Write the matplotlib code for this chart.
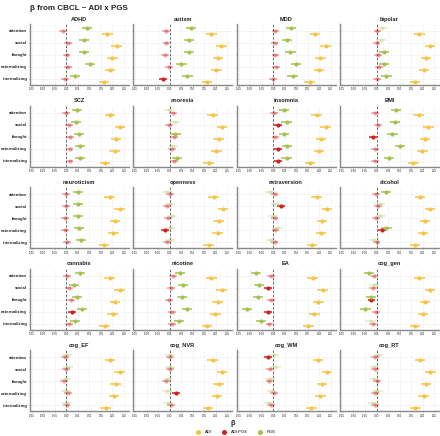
import numpy as np
import matplotlib
matplotlib.use("Agg")
import matplotlib.pyplot as plt
from matplotlib.lines import Line2D

# ---- data ----
panels = ["ADHD", "autism", "MDD", "bipolar",
          "SCZ", "anorexia", "insomnia", "BMI",
          "neuroticism", "openness", "extraversion", "alcohol",
          "cannabis", "nicotine", "EA", "cog_gen",
          "cog_EF", "cog_NVR", "cog_WM", "cog_RT"]
outcomes = ["attention", "social", "thought", "externalizing", "internalizing"]
xticks = [-0.15, -0.10, -0.05, 0.00, 0.05, 0.10, 0.15, 0.20, 0.25]

# beta estimates, one row per panel, columns follow `outcomes`
adi = [
    [0.178, 0.218, 0.199, 0.189, 0.163],
    [0.181, 0.224, 0.210, 0.202, 0.162],
    [0.181, 0.227, 0.205, 0.198, 0.158],
    [0.186, 0.231, 0.215, 0.205, 0.166],
    [0.189, 0.233, 0.215, 0.210, 0.168],
    [0.186, 0.227, 0.212, 0.202, 0.169],
    [0.188, 0.227, 0.208, 0.199, 0.160],
    [0.182, 0.224, 0.210, 0.199, 0.160],
    [0.188, 0.231, 0.211, 0.204, 0.163],
    [0.191, 0.231, 0.212, 0.208, 0.169],
    [0.188, 0.234, 0.212, 0.208, 0.169],
    [0.188, 0.231, 0.210, 0.202, 0.166],
    [0.188, 0.231, 0.211, 0.201, 0.166],
    [0.181, 0.225, 0.208, 0.198, 0.162],
    [0.171, 0.214, 0.196, 0.178, 0.153],
    [0.186, 0.231, 0.210, 0.202, 0.166],
    [0.189, 0.231, 0.214, 0.207, 0.171],
    [0.186, 0.227, 0.212, 0.205, 0.166],
    [0.194, 0.234, 0.212, 0.205, 0.165],
    [0.189, 0.233, 0.214, 0.204, 0.168],
]
adi_pgs = [
    [-0.016, 0.006, 0.001, 0.009, -0.006],
    [-0.017, -0.014, -0.020, -0.004, -0.030],
    [0.010, 0.006, 0.010, 0.013, 0.000],
    [0.004, 0.000, 0.007, 0.009, 0.001],
    [-0.001, 0.012, 0.016, 0.014, 0.014],
    [0.014, -0.003, 0.017, 0.009, 0.017],
    [0.003, 0.022, 0.010, 0.020, 0.022],
    [-0.006, 0.007, -0.017, -0.006, -0.007],
    [-0.001, -0.003, -0.006, -0.006, 0.004],
    [0.000, -0.012, -0.007, -0.022, -0.012],
    [0.006, 0.035, 0.006, 0.010, 0.006],
    [-0.004, 0.006, -0.004, 0.025, 0.000],
    [0.003, 0.012, 0.019, 0.026, 0.013],
    [0.014, 0.006, -0.004, 0.010, 0.010],
    [-0.009, -0.023, -0.009, -0.023, -0.016],
    [-0.009, -0.014, -0.022, -0.004, -0.014],
    [-0.007, -0.003, -0.010, 0.009, 0.001],
    [0.000, 0.000, -0.016, 0.027, 0.007],
    [-0.022, -0.012, -0.016, 0.003, -0.009],
    [-0.007, -0.007, 0.001, -0.007, -0.007],
]
pgs = [
    [0.091, 0.078, 0.075, 0.103, 0.039],
    [0.091, 0.082, 0.082, 0.051, 0.077],
    [0.079, 0.061, 0.075, 0.100, 0.084],
    [0.022, 0.019, 0.032, 0.032, 0.043],
    [0.048, 0.042, 0.055, 0.058, 0.058],
    [-0.004, 0.022, 0.025, 0.014, 0.032],
    [0.046, 0.058, 0.046, 0.061, 0.058],
    [0.084, 0.081, 0.069, 0.101, 0.055],
    [0.052, 0.052, 0.049, 0.056, 0.062],
    [-0.012, 0.000, 0.010, 0.003, 0.000],
    [-0.012, 0.012, 0.000, 0.017, -0.009],
    [0.040, 0.013, 0.017, 0.043, -0.012],
    [0.058, 0.033, 0.048, 0.069, 0.036],
    [0.046, 0.056, 0.053, 0.075, 0.039],
    [-0.076, -0.062, -0.065, -0.112, -0.052],
    [-0.033, -0.012, -0.023, -0.048, -0.026],
    [0.004, 0.009, -0.003, -0.003, -0.003],
    [0.003, 0.003, -0.009, -0.012, -0.009],
    [0.003, 0.010, -0.012, -0.004, -0.019],
    [0.007, -0.010, -0.010, 0.004, -0.017],
]
# significance flags (1 = significant), one char per outcome
sig_adi_pgs = ["00000", "00001", "00000", "00000",
               "00000", "00000", "01011", "00100",
               "00000", "00010", "01000", "00010",
               "00010", "00000", "01010", "00100",
               "00000", "00010", "10000", "00000"]
sig_pgs = ["11111", "11111", "11111", "00111",
           "11111", "00101", "11111", "11111",
           "11111", "00000", "00000", "10010",
           "11111", "11111", "11111", "10110",
           "00000", "00000", "00000", "00000"]
ci_half = {"ADI": 0.023, "ADI:PGS": 0.017, "PGS": 0.022}

terms = ["ADI", "ADI:PGS", "PGS"]
colors = {"ADI": "#F6C445", "ADI:PGS": "#D41F1F", "PGS": "#A5C24E"}
offsets = {"ADI": 0.22, "ADI:PGS": 0.0, "PGS": -0.22}

W, H = 440, 436
plt.rcParams['font.family'] = ['Liberation Sans', 'DejaVu Sans']
fig = plt.figure(figsize=(W / 100, H / 100), dpi=100)

col_left, col_step, ax_w = 29.7, 103.4, 99
row_top, row_step, ax_h = 24, 81.6, 61

for i, name in enumerate(panels):
    r, c = divmod(i, 4)
    left = col_left + col_step * c
    top = row_top + row_step * r
    ax = fig.add_axes([left / W, 1 - (top + ax_h) / H, ax_w / W, ax_h / H])

    ax.set_xlim(-0.1587, 0.2703)
    ax.set_ylim(4.5, -0.583)
    ax.set_xticks(xticks)
    ax.set_xticklabels([f"{t:.2f}" for t in xticks], fontsize=1.8)
    ax.set_yticks(range(len(outcomes)))
    if c == 0:
        ax.set_yticklabels(outcomes, fontsize=3.1, fontweight='bold', color='#222222')
    else:
        ax.set_yticklabels([])
    ax.tick_params(axis='both', length=1.0, width=0.5, color='#888888', pad=0.8)
    ax.grid(True, color='#E6E6E6', linestyle=(0, (2, 2)), linewidth=0.5)
    ax.set_axisbelow(True)
    for s in ['top', 'right']:
        ax.spines[s].set_visible(False)
    for s in ['left', 'bottom']:
        ax.spines[s].set_color('#888888')
        ax.spines[s].set_linewidth(1.0)
    ax.axvline(0, color='#555555', linestyle=(0, (3, 2)), linewidth=0.6, zorder=1)

    vals = {"ADI": adi[i], "ADI:PGS": adi_pgs[i], "PGS": pgs[i]}
    sigs = {"ADI": "11111", "ADI:PGS": sig_adi_pgs[i], "PGS": sig_pgs[i]}
    for term in terms:
        for j in range(len(outcomes)):
            v = vals[term][j]
            a = 1.0 if sigs[term][j] == "1" else (0.4 if term == "ADI:PGS" else 0.3)
            y = j + offsets[term]
            ax.errorbar(v, y, xerr=ci_half[term], fmt='o', color=colors[term],
                        markersize=3.0, elinewidth=1.1, capsize=0, alpha=a,
                        markeredgewidth=0, zorder=3)

    ax.set_title(name, fontsize=4.1, fontweight='bold', pad=2.5, color='#222222')

fig.text(30 / W, 1 - 9 / H, "β from CBCL ~ ADI x PGS", fontsize=5.8,
         fontweight='bold', ha='left', va='center', color='#222222')
fig.text(233 / W, 1 - 423 / H, "β", fontsize=5.2, fontweight='bold',
         ha='center', va='center', color='#222222')

handles = [Line2D([], [], marker='o', linestyle='', color=colors[t],
                  markersize=3.6, markeredgewidth=0, label=t) for t in terms]
fig.legend(handles=handles, loc='center', ncol=3, frameon=False,
           bbox_to_anchor=(235 / W, 1 - 432 / H), fontsize=3.0,
           handletextpad=0.6, columnspacing=2.0, borderaxespad=0)

fig.savefig("out.png", dpi=100)
